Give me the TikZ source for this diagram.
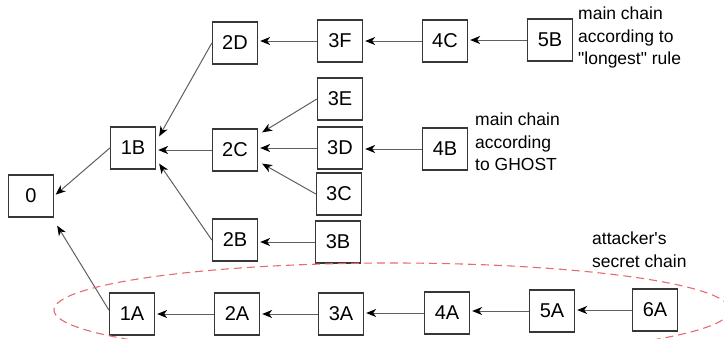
\documentclass[tikz,border=0pt]{standalone}
\usepackage{fontspec}
\newfontfamily\arialf{Liberation Sans}
\usetikzlibrary{arrows.meta,calc}
\definecolor{boxcol}{RGB}{55,55,55}
\definecolor{linecol}{RGB}{95,95,95}
\definecolor{dashred}{RGB}{232,105,115}
\begin{document}
\begin{tikzpicture}[x=1pt,y=-1pt,
 blk/.style={draw=boxcol,line width=1.3pt,minimum width=45pt,minimum height=42pt,inner sep=0pt,font=\arialf\fontsize{20}{23}\selectfont},
 lbl/.style={anchor=north west,inner sep=0pt,align=left,font=\arialf\fontsize{17.5}{22.5}\selectfont},
 link/.style={draw=linecol,line width=1pt,-{Stealth[length=10pt,width=8pt,inset=3pt,color=black]},shorten >=2pt},
 diag/.style={link,shorten >=0pt},
 secret/.style={draw=dashred,line width=1.1pt,dash pattern=on 8pt off 5pt}]
\useasboundingbox (0,0) rectangle (724,338);
\clip (0,0) rectangle (724,338);
% blocks
\node[blk] (n0) at (31,196) {0};
\node[blk] (1B) at (133,148) {1B};
\node[blk] (2D) at (235,43) {2D};
\node[blk] (2C) at (235,150) {2C};
\node[blk] (2B) at (235,240) {2B};
\node[blk] (3F) at (340,41) {3F};
\node[blk] (3E) at (340,99) {3E};
\node[blk] (3D) at (340,148) {3D};
\node[blk] (3C) at (339,194) {3C};
\node[blk] (3B) at (338,242) {3B};
\node[blk] (4C) at (445,41) {4C};
\node[blk] (5B) at (550,40) {5B};
\node[blk] (4B) at (445,149) {4B};
\node[blk] (1A) at (132,314) {1A};
\node[blk] (2A) at (237,314) {2A};
\node[blk] (3A) at (341,314) {3A};
\node[blk] (4A) at (447,313) {4A};
\node[blk] (5A) at (552,311) {5A};
\node[blk] (6A) at (655,310) {6A};
% horizontal links
\draw[link] (3F.west) -- (3F.west -| 2D.east);
\draw[link] (4C.west) -- (4C.west -| 3F.east);
\draw[link] (5B.west) -- (5B.west -| 4C.east);
\draw[link] (2C.west) -- (2C.west -| 1B.east);
\draw[link] (3D.west) -- (3D.west -| 2C.east);
\draw[link] (4B.west) -- (4B.west -| 3D.east);
\draw[link] (3B.west) -- (3B.west -| 2B.east);
\draw[link] (2A.west) -- (2A.west -| 1A.east);
\draw[link] (3A.west) -- (3A.west -| 2A.east);
\draw[link] (4A.west) -- (4A.west -| 3A.east);
\draw[link] (5A.west) -- (5A.west -| 4A.east);
\draw[link] (6A.west) -- (6A.west -| 5A.east);
% diagonal links
\draw[link] (1B.west) -- (n0.east);
\draw[diag] ($(1A.west)+(0,-4)$) -- ($(n0.south east)+(3,8)$);
\draw[diag] (2D.west) -- ($(1B.north east)+(3,10)$);
\draw[diag] (2B.west) -- ($(1B.south east)+(3,-6)$);
\draw[diag] (3E.west) -- ($(2C.north east)+(4,4)$);
\draw[diag] (3C.west) -- ($(2C.south east)+(4,-8)$);
% attacker's chain outline
\draw[secret] (392,310) ellipse [x radius=338, y radius=47];
% labels
\node[lbl] (Llong) at (578,7) {main chain\\according to\\"longest" rule};
\node[lbl] (Lghost) at (475,113) {main chain\\according\\to GHOST};
\node[lbl] (Lsecret) at (592,232) {attacker's\\secret chain};
\end{tikzpicture}
\end{document}
